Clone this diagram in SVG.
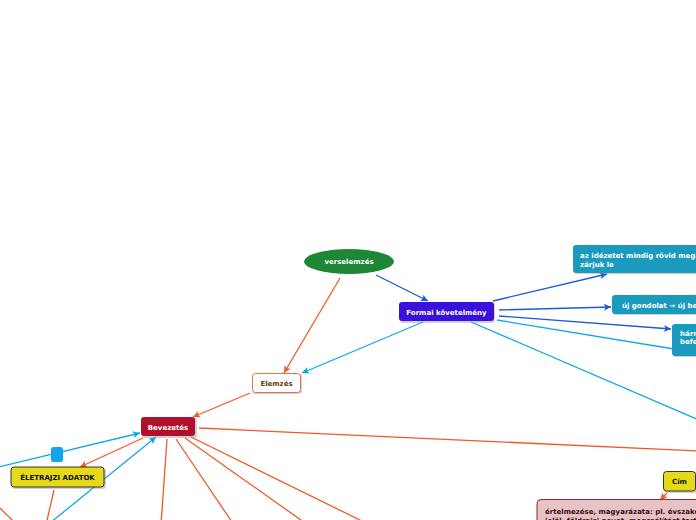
<svg xmlns="http://www.w3.org/2000/svg" width="696" height="520" viewBox="0 0 696 520">
<style>
text{font-family:"DejaVu Sans","Verdana",sans-serif;font-weight:bold;font-size:7px}
.w{fill:#ffffff}
.k{fill:#111111}
.c{text-anchor:middle}
.or{stroke:#f05a28;stroke-width:1.3;fill:none}
.lb{stroke:#11a6ea;stroke-width:1.3;fill:none}
.db{stroke:#1c5ad8;stroke-width:1.3;fill:none}
.sh{fill:#9a9a9a;opacity:0.45}
</style>
<defs>
<marker id="aor" markerUnits="userSpaceOnUse" markerWidth="8" markerHeight="8" refX="7" refY="4" orient="auto"><path d="M0,0.5 L7,4 L0,7.5 L1.5,4 Z" fill="#f05a28"/></marker>
<marker id="alb" markerUnits="userSpaceOnUse" markerWidth="8" markerHeight="8" refX="7" refY="4" orient="auto"><path d="M0,0.5 L7,4 L0,7.5 L1.5,4 Z" fill="#11a6ea"/></marker>
<marker id="adb" markerUnits="userSpaceOnUse" markerWidth="8" markerHeight="8" refX="7" refY="4" orient="auto"><path d="M0,0.5 L7,4 L0,7.5 L1.5,4 Z" fill="#1c5ad8"/></marker>
</defs>
<rect width="696" height="520" fill="#ffffff"/>
<g id="connectors">
<line class="db" x1="376" y1="275" x2="428" y2="301" marker-end="url(#adb)"/>
<line class="or" x1="340" y1="278" x2="284" y2="373" marker-end="url(#aor)"/>
<line class="lb" x1="423" y1="322" x2="302" y2="373" marker-end="url(#alb)"/>
<line class="or" x1="250" y1="393" x2="193" y2="417" marker-end="url(#aor)"/>
<line class="db" x1="493" y1="301" x2="607" y2="274" marker-end="url(#adb)"/>
<line class="db" x1="499" y1="310" x2="611" y2="307" marker-end="url(#adb)"/>
<line class="db" x1="499" y1="316" x2="671" y2="329" marker-end="url(#adb)"/>
<line class="lb" x1="497" y1="320" x2="680" y2="350"/>
<line class="lb" x1="471" y1="322" x2="720" y2="429"/>
<line class="or" x1="199" y1="428" x2="720" y2="452"/>
<line class="lb" x1="-10" y1="469" x2="140" y2="433" marker-end="url(#alb)"/>
<line class="or" x1="143" y1="438" x2="80" y2="467" marker-end="url(#aor)"/>
<line class="lb" x1="45" y1="527" x2="156" y2="437" marker-end="url(#alb)"/>
<line class="or" x1="54" y1="490" x2="46" y2="525"/>
<line class="or" x1="0" y1="508" x2="14" y2="522"/>
<line class="or" x1="167" y1="439" x2="161" y2="525"/>
<line class="or" x1="176" y1="439" x2="234" y2="525"/>
<line class="or" x1="185" y1="438" x2="308" y2="525"/>
<line class="or" x1="191" y1="437" x2="370" y2="525"/>
<line class="or" x1="667" y1="493" x2="660" y2="500" marker-end="url(#aor)"/>
<rect x="51" y="447" width="12" height="15" rx="2.5" fill="#11a6ea"/>
</g>
<g id="n-verselemzes">
<ellipse cx="349" cy="261.5" rx="45" ry="12.5" fill="#1e8635"/>
<text class="w c" x="349" y="264">verselemzés</text>
</g>
<g id="n-formai">
<rect class="sh" x="400" y="303" width="95" height="20" rx="3"/>
<rect x="399" y="302" width="95" height="19" rx="3" fill="#3a10dd"/>
<text class="w c" x="446.5" y="314.5">Formai követelmény</text>
</g>
<g id="n-idezet">
<rect class="sh" x="574" y="246" width="130" height="28" rx="3"/>
<rect x="573" y="245" width="130" height="28" rx="3" fill="#1a9bbd"/>
<text class="w" x="580" y="258">az idézetet mindig rövid mega</text>
<text class="w" x="580" y="267">zárjuk le</text>
</g>
<g id="n-ujgondolat">
<rect class="sh" x="613" y="296" width="90" height="19" rx="3"/>
<rect x="612" y="295" width="90" height="19" rx="3" fill="#1a9bbd"/>
<text class="w" x="622" y="307.5">új gondolat → új be</text>
</g>
<g id="n-harm">
<rect class="sh" x="673" y="325" width="30" height="32" rx="3"/>
<rect x="672" y="324" width="30" height="32" rx="3" fill="#1a9bbd"/>
<text class="w" x="680" y="336">hárm</text>
<text class="w" x="680" y="344">befe</text>
</g>
<g id="n-elemzes">
<rect class="sh" x="253" y="374" width="49" height="20" rx="3"/>
<rect x="252.5" y="373.5" width="48" height="19" rx="3" fill="#ffffff" stroke="#f26b43" stroke-width="1"/>
<text class="c" x="276.5" y="386" fill="#6b3a10">Elemzés</text>
</g>
<g id="n-bevezetes">
<rect class="sh" x="142" y="418" width="55" height="20" rx="3"/>
<rect x="141" y="417" width="54" height="19" rx="3" fill="#b0102c"/>
<text class="w c" x="168" y="429.5">Bevezetés</text>
</g>
<g id="n-eletrajzi">
<rect class="sh" x="12" y="468" width="94" height="21" rx="3"/>
<rect x="11" y="467" width="93" height="20" rx="3" fill="#e5d91a" stroke="#333333" stroke-width="1"/>
<text class="k c" x="57.5" y="480">ÉLETRAJZI ADATOK</text>
</g>
<g id="n-cim">
<rect class="sh" x="664" y="472" width="33" height="21" rx="3"/>
<rect x="663.5" y="471.5" width="32" height="19.5" rx="3" fill="#e5d91a" stroke="#333333" stroke-width="1"/>
<text class="k c" x="679.5" y="484">Cím</text>
</g>
<g id="n-ertelmezes">
<rect x="537" y="499.5" width="170" height="40" rx="4" fill="#e8c3c6" stroke="#8a2a3a" stroke-width="1"/>
<text x="545" y="514" fill="#3a0a10">értelmezése, magyarázata: pl. évszako</text>
<text x="545" y="522.5" fill="#3a0a10">jelöl, földrajzi nevet, megszólítást tart</text>
</g>
</svg>
